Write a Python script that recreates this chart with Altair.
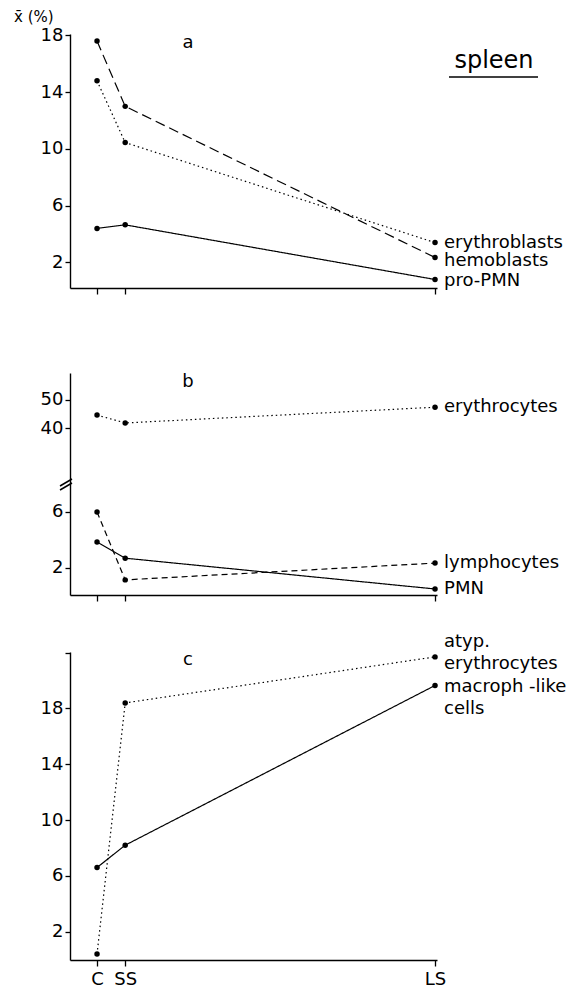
import altair as alt
import pandas as pd

FONT = "DejaVu Sans"

# ---- data ----
stages = ["C", "SS", "LS"]
stage_t = [0, 1, 12]

# panel a
a_names = ["erythroblasts", "hemoblasts", "pro-PMN"]
a_erythroblasts = [14.8, 10.45, 3.4]
a_hemoblasts = [17.6, 13.0, 2.35]
a_pro_pmn = [4.4, 4.65, 0.8]

# panel b
b_names_up = ["erythrocytes"]
b_erythrocytes = [44.6, 41.8, 47.4]
b_names_low = ["lymphocytes", "PMN"]
b_lymphocytes = [6.0, 1.15, 2.35]
b_pmn = [3.85, 2.7, 0.5]

# panel c
c_names = ["atyp. erythrocytes", "macroph.-like cells"]
c_labels = ["atyp.\nerythrocytes", "macroph -like\ncells"]
c_atyp = [0.4, 18.4, 21.7]
c_macroph = [6.6, 8.2, 19.65]

a_ticks = [2, 6, 10, 14, 18]
b_up_ticks = [40, 50]
b_low_ticks = [2, 6]
c_ticks = [2, 6, 10, 14, 18, 22]

SOLID = [1, 0]
DASHED = [10, 5]
DASHED_SHORT = [6, 4]
DOTTED = [1.5, 3]

XDOM = [-0.96, 12.07]
W = 367
LABEL_SIZE = 18
TICK_SIZE = 18


def long_df(names, labels, values):
    rows = []
    for n, lab, vals in zip(names, labels, values):
        for s, t, v in zip(stages, stage_t, vals):
            rows.append({"series": n, "label": lab, "stage": s, "t": t, "value": v})
    return pd.DataFrame(rows)


def x_enc(mode):
    if mode is None:
        axis = None
    else:
        kw = dict(values=stage_t, title=None, grid=False, tickSize=6, tickWidth=1.3,
                  tickColor="black", domainColor="black", domainWidth=1.4,
                  labelFontSize=TICK_SIZE, labelColor="black", labelFont=FONT, labelPadding=4,
                  labels=(mode == "labels"))
        if mode == "labels":
            kw["labelExpr"] = "datum.value == 0 ? 'C' : datum.value == 1 ? 'SS' : 'LS'"
        axis = alt.Axis(**kw)
    return alt.X("t:Q", scale=alt.Scale(domain=XDOM, nice=False, zero=False), axis=axis)


def y_enc(dom, ticks, expr=None):
    kw = dict(values=ticks, title=None, grid=False, tickSize=5, tickWidth=1.3,
              tickColor="black", domainColor="black", domainWidth=1.4,
              labelFontSize=TICK_SIZE, labelColor="black", labelFont=FONT, labelPadding=2)
    if expr:
        kw["labelExpr"] = expr
    return alt.Y("value:Q", scale=alt.Scale(domain=dom, nice=False, zero=False),
                 axis=alt.Axis(**kw))


def panel(names, labels, values, dashes, dys, ydom, height, ticks, xmode, yexpr=None, extras=()):
    df = long_df(names, labels, values)
    x = x_enc(xmode)
    y = y_enc(ydom, ticks, yexpr)
    layers = []
    for n, dash in zip(names, dashes):
        sub = df[df.series == n]
        layers.append(
            alt.Chart(sub).mark_line(color="black", strokeWidth=1.2, strokeDash=dash)
            .encode(x=x, y=y)
        )
    layers.append(alt.Chart(df).mark_circle(color="black", size=30, opacity=1).encode(x=x, y=y))
    for n, dy in zip(names, dys):
        sub = df[(df.series == n) & (df.stage == "LS")]
        lab = alt.Chart(sub).mark_text(
            align="left", baseline="middle", dx=9, dy=dy, fontSize=LABEL_SIZE, font=FONT,
            color="black", lineBreak="\n", lineHeight=22,
        ).encode(x=x, y=y, text="label:N")
        layers.append(lab)
    layers.extend(extras)
    return alt.layer(*layers).properties(width=W, height=height)


def note(txt, px, py, size=18, align="center", baseline="middle"):
    return alt.Chart(pd.DataFrame({"txt": [txt]})).mark_text(
        fontSize=size, font=FONT, color="black", align=align, baseline=baseline
    ).encode(x=alt.value(px), y=alt.value(py), text="txt:N")


one = pd.DataFrame({"k": [0]})

a_extras = [
    note("x\u0304 (%)", -56, -24, size=15, align="left", baseline="top"),
    note("a", 118, 9),
    note("spleen", 424, 27, size=24),
    alt.Chart(one).mark_rule(color="black", strokeWidth=1.4).encode(
        x=alt.value(379), x2=alt.value(468), y=alt.value(43)),
]
a = panel(a_names, a_names, [a_erythroblasts, a_hemoblasts, a_pro_pmn],
          [DOTTED, DASHED, SOLID], [0, 4, 2], [0.2, 18.1], 254, a_ticks, "ticks",
          extras=a_extras)

b_up = panel(b_names_up, b_names_up, [b_erythrocytes], [DOTTED], [0], [20.4, 59.6], 110,
             b_up_ticks, None, extras=[note("b", 118, 9)])

b_breaks = [
    alt.Chart(one).mark_rule(color="black", strokeWidth=1.5).encode(
        x=alt.value(-10), x2=alt.value(2), y=alt.value(3), y2=alt.value(-4)),
    alt.Chart(one).mark_rule(color="black", strokeWidth=1.5).encode(
        x=alt.value(-10), x2=alt.value(2), y=alt.value(7), y2=alt.value(0)),
]
b_low = panel(b_names_low, b_names_low, [b_lymphocytes, b_pmn], [DASHED_SHORT, SOLID], [0, 0],
              [0.07, 8.07], 112, b_low_ticks, "ticks", extras=b_breaks)

c = panel(c_names, c_labels, [c_atyp, c_macroph], [DOTTED, SOLID], [-15, 2], [-0.03, 22.05], 308,
          c_ticks, "labels", yexpr="datum.value == 22 ? '' : datum.label",
          extras=[note("c", 118, 8)])


def spacer(h):
    return alt.Chart(one).mark_point(opacity=0).encode(
        x=alt.value(0), y=alt.value(0)).properties(width=W, height=h)


chart = alt.vconcat(a, spacer(85), b_up, b_low, spacer(57), c, spacing=0, bounds="flush").properties(
    padding={"left": 14, "top": 10, "right": 2, "bottom": 2},
    background="white",
).configure(font=FONT, view=alt.ViewConfig(stroke=None))

chart.save("out.html", embed_options={"renderer": "svg", "actions": False})
